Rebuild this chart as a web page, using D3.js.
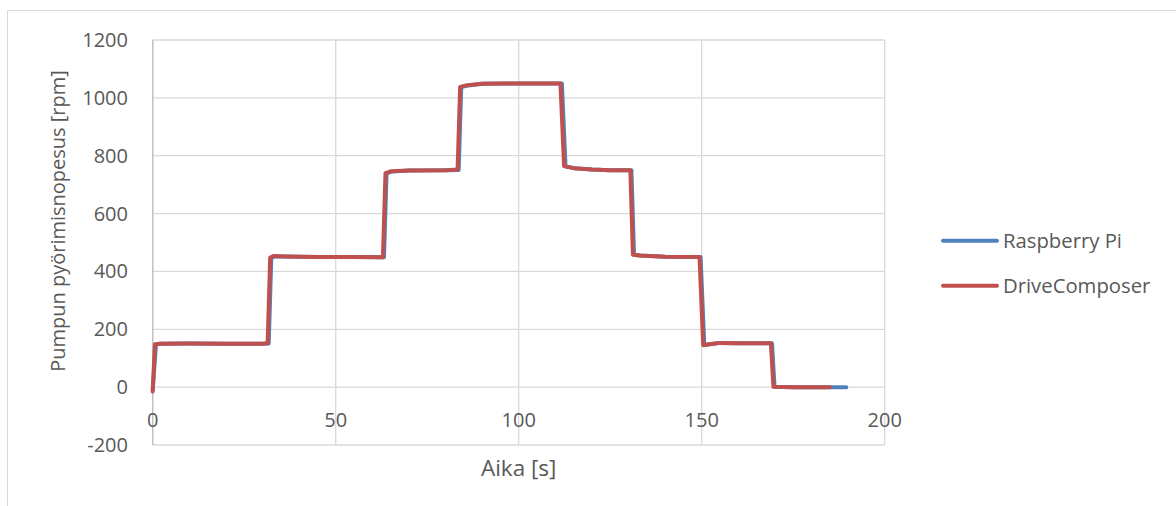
<!DOCTYPE html>
<html><head><meta charset="utf-8">
<script src="https://cdn.jsdelivr.net/npm/d3@7"></script>
<style>body{margin:0;background:#fff}svg text{font-family:"Open Sans",sans-serif;fill:#595959}</style>
</head><body><svg id="c" width="1176" height="506"></svg>
<script>
const xTicks=[0,50,100,150,200];
const yTicks=[-200,0,200,400,600,800,1000,1200];
const seriesNames=["Raspberry Pi","DriveComposer"];
const seriesColors=["#4F81BD","#C0504D"];
// Raspberry Pi [time s, rpm]
const rpiTime=[0,0.9,2,10,20,30,31.7,32.4,33.3,36,45,55,63.2,63.9,65.3,70,80,83.6,84.3,86.3,90,100,110,111.8,112.8,115.3,120,125,130.8,131.5,133.3,140,149.7,150.7,152.3,155,160,169.2,169.9,175,185,189.5];
const rpiRpm=[-10,147,150,151,150,150,151,447,452,452,450,450,449,739,745,749,750,751,1037,1043,1049,1050,1050,1050,763,757,752,750,750,458,455,451,450,146,148,153,152,152,1,0,0,0];
// DriveComposer [time s, rpm]
const dcTime=[0,0.6,2,10,20,30,31.4,32.1,33,36,45,55,62.9,63.6,65,70,80,83.3,84,86,90,100,110,111.4,112.4,115,120,125,130.5,131.2,133,140,149.4,150.4,152,155,160,168.9,169.6,175,185];
const dcRpm=[-15,148,150,151,150,150,152,448,453,452,450,450,449,740,746,749,750,752,1038,1044,1049,1050,1050,1050,764,757,752,750,750,458,455,451,450,145,148,153,152,152,1,0,0];

const svg=d3.select("#c");
const L=152.7,R=884.7,T=40,B=445;
const x=d3.scaleLinear().domain([0,200]).range([L,R]);
const y=d3.scaleLinear().domain([-200,1200]).range([B,T]);

// outer frame (top & left visible)
svg.append("line").attr("x1",7.5).attr("x2",1176).attr("y1",10.5).attr("y2",10.5).attr("stroke","#d9d9d9").attr("stroke-width",1);
svg.append("line").attr("x1",7.5).attr("x2",7.5).attr("y1",10.5).attr("y2",506).attr("stroke","#d9d9d9").attr("stroke-width",1);

// grid
svg.append("g").selectAll("line").data(yTicks).join("line")
  .attr("x1",L).attr("x2",R).attr("y1",d=>y(d)).attr("y2",d=>y(d))
  .attr("stroke","#d9d9d9").attr("stroke-width",1.3);
svg.append("g").selectAll("line").data(xTicks).join("line")
  .attr("y1",T).attr("y2",B).attr("x1",d=>x(d)).attr("x2",d=>x(d))
  .attr("stroke","#d9d9d9").attr("stroke-width",1.3);
svg.append("line").attr("x1",L).attr("x2",L).attr("y1",T).attr("y2",B).attr("stroke","#bfbfbf").attr("stroke-width",1.3);

// tick labels
svg.append("g").selectAll("text").data(yTicks).join("text")
  .attr("x",128).attr("y",d=>y(d)).attr("dy","0.35em").attr("text-anchor","end")
  .attr("font-size",20).text(d=>d);
svg.append("g").selectAll("text").data(xTicks).join("text")
  .attr("x",d=>x(d)).attr("y",427).attr("text-anchor","middle")
  .attr("font-size",20).text(d=>d);

// axis titles
svg.append("text").attr("x",(L+R)/2).attr("y",476).attr("text-anchor","middle").attr("font-size",22.5).text("Aika [s]");
svg.append("text").attr("transform","translate(65,221) rotate(-90)").attr("text-anchor","middle").attr("font-size",20).text("Pumpun pyörimisnopesus [rpm]");

// lines
const line=d3.line().x(d=>x(d[0])).y(d=>y(d[1]));
const rpi=rpiTime.map((t,i)=>[t,rpiRpm[i]]);
const dc=dcTime.map((t,i)=>[t,dcRpm[i]]);
[rpi,dc].forEach((data,i)=>{
  svg.append("path").datum(data).attr("d",line).attr("fill","none")
    .attr("stroke",seriesColors[i]).attr("stroke-width",4).attr("stroke-linejoin","round").attr("stroke-linecap","round");
});

// legend
const lg=svg.append("g").selectAll("g").data(seriesNames).join("g")
  .attr("transform",(d,i)=>`translate(0,${240.7+i*45})`);
lg.append("line").attr("x1",943).attr("x2",997).attr("y1",0).attr("y2",0)
  .attr("stroke",(d,i)=>seriesColors[i]).attr("stroke-width",4).attr("stroke-linecap","round");
lg.append("text").attr("x",1003).attr("y",0).attr("dy","0.35em").attr("font-size",20.3).text(d=>d);
</script></body></html>
